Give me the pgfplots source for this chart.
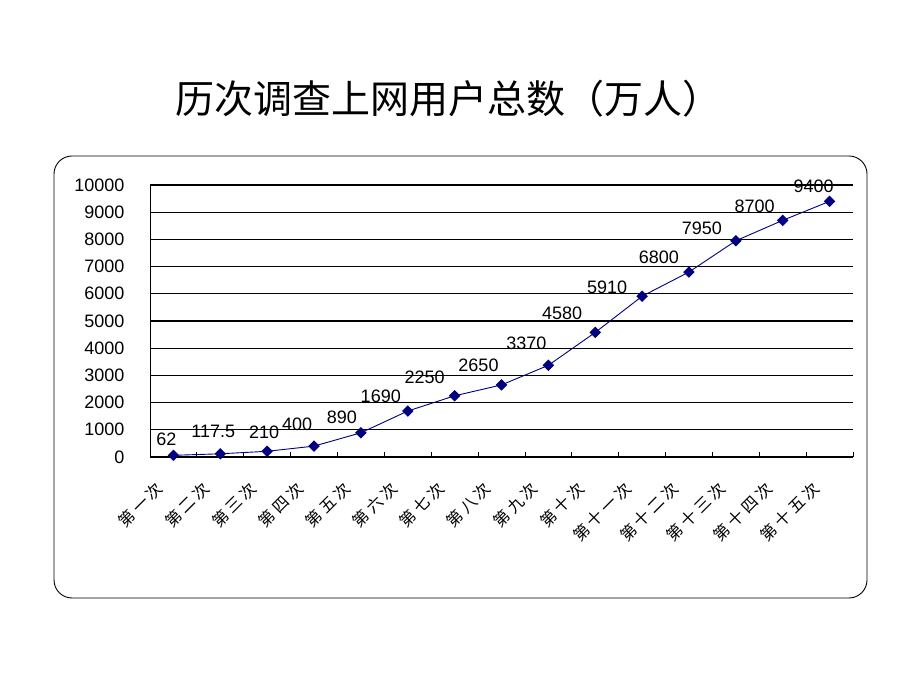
\documentclass[border=0pt]{standalone}
\usepackage{pgfplots}
\pgfplotsset{compat=1.18}
\usepackage{pgfplotstable}
\usepackage{fontspec}
\setmainfont{Liberation Sans}
\newfontfamily\cjk{Noto Sans CJK SC}
\newfontfamily\cjkls{Noto Sans CJK SC}[LetterSpace=22]
\definecolor{navy}{RGB}{0,0,128}

\pgfplotstableread{
x y lab dx dy
0.5 62 62 -7 16
1.5 117.5 117.5 -7 22
2.5 210 210 -3 19
3.5 400 400 -17 22
4.5 890 890 -19 15
5.5 1690 1690 -27 15
6.5 2250 2250 -30 18
7.5 2650 2650 -23 20
8.5 3370 3370 -22 22
9.5 4580 4580 -33 19
10.5 5910 5910 -35 9
11.5 6800 6800 -30 15
12.5 7950 7950 -34 12
13.5 8700 8700 -28 14
14.5 9400 9400 -16 15
}\datatable

\begin{document}
\begin{tikzpicture}
\useasboundingbox (0,0) rectangle (920bp,690bp);
\draw[line width=0.9bp, rounded corners=18bp] (54bp,92bp) rectangle (867bp,534bp);
\node[font=\cjk\fontsize{39bp}{45bp}\selectfont] at (448bp,591bp) {历次调查上网用户总数（万人）};
\begin{axis}[
  at={(150bp,233bp)}, anchor=south west,
  scale only axis, width=703bp, height=272bp,
  xmin=0, xmax=15, ymin=0, ymax=10000,
  axis x line*=bottom, axis y line*=left,
  axis line style={line width=1bp, black},
  xtick={0.5,1.5,...,14.5},
  xticklabels={第一次,第二次,第三次,第四次,第五次,第六次,第七次,第八次,第九次,第十次,第十一次,第十二次,第十三次,第十四次,第十五次},
  minor xtick={0,1,...,15},
  tick align=inside,
  major tick length=0pt,
  minor tick length=5bp,
  minor tick style={black, line width=0.8bp},
  ytick={0,1000,...,10000},
  ymajorgrids, grid style={black, line width=1.2bp},
  scaled y ticks=false,
  /pgf/number format/assume math mode=true,
  /pgf/number format/1000 sep={},
  yticklabel style={font=\fontsize{18bp}{20bp}\selectfont, xshift=-22bp},
  xticklabel style={font=\cjkls\fontsize{16bp}{18bp}\selectfont, xshift=-11bp, yshift=-26bp, rotate=45, anchor=east},
  clip=false,
]
\addplot[color=navy, line width=0.9bp, mark=square*, mark size=3.6bp,
  mark options={fill=navy, draw=navy, rotate=45},
  nodes near coords, point meta=explicit symbolic,
  visualization depends on={\thisrow{dx} \as \dx},
  visualization depends on={\thisrow{dy} \as \dy},
  every node near coord/.append style={font=\fontsize{18bp}{20bp}\selectfont, text=black, anchor=center, xshift=\dx bp, yshift=\dy bp}
] table[x=x, y=y, meta=lab] {\datatable};
\end{axis}
\end{tikzpicture}
\end{document}
